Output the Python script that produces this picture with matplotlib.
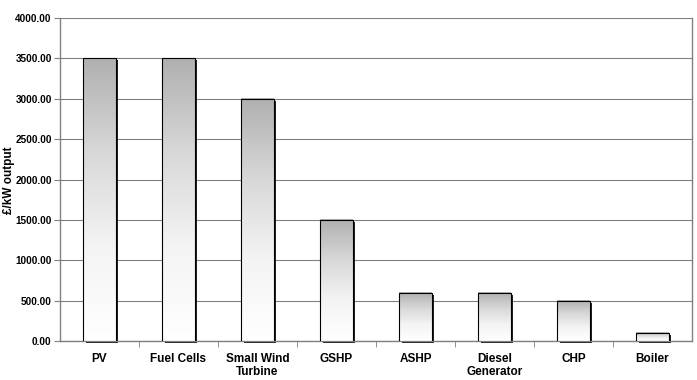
import numpy as np
import matplotlib.pyplot as plt
import matplotlib.transforms as mtransforms
from matplotlib.colors import LinearSegmentedColormap
from matplotlib.patches import Rectangle

categories = ['PV', 'Fuel Cells', 'Small Wind\nTurbine', 'GSHP', 'ASHP',
              'Diesel\nGenerator', 'CHP', 'Boiler']
values = [3500, 3500, 3000, 1500, 600, 600, 500, 100]
y_ticks = [0, 500, 1000, 1500, 2000, 2500, 3000, 3500, 4000]

plt.rcParams['font.family'] = ['Liberation Sans', 'DejaVu Sans']

fig = plt.figure(figsize=(6.97, 3.8), dpi=100)
ax = fig.add_axes([60 / 697, 1 - 341 / 380, 632 / 697, 323 / 380])

x = np.arange(len(categories))
width = 0.41

# gridlines
for t in y_ticks:
    ax.axhline(t, color='#808080', lw=0.8, zorder=0)

grad = np.linspace(0, 1, 256).reshape(-1, 1)
cmap = LinearSegmentedColormap.from_list('g', ['#ffffff', '#f4f4f4', '#d8d8d8', '#b0b0b0'])
shadow_tr = ax.transData + mtransforms.ScaledTranslation(2.5 / 100, -2 / 100, fig.dpi_scale_trans)

for xi, v in zip(x, values):
    left = xi - width / 2
    # shadow
    ax.add_patch(Rectangle((left, 0), width, v, facecolor='#202020', edgecolor='none',
                           transform=shadow_tr, zorder=2, clip_on=False))
    # gradient fill
    ax.imshow(grad, extent=(left, left + width, 0, v), aspect='auto',
              cmap=cmap, vmin=0, vmax=1, origin='lower',
              interpolation='bicubic', zorder=3)
    ax.add_patch(Rectangle((left, 0), width, v, facecolor='none',
                           edgecolor='black', lw=0.8, zorder=4))

ax.set_xlim(-0.5, len(categories) - 0.5)
ax.set_ylim(0, 4000)

ax.set_yticks(y_ticks)
ax.set_yticklabels(['%.2f' % t for t in y_ticks], fontsize=7.2, fontweight='bold')
ax.set_xticks(x)
ax.set_xticklabels(categories, fontsize=8.5, fontweight='bold', linespacing=1.1)
ax.tick_params(axis='x', length=0, pad=9)
ax.set_xticks(np.arange(0.5, len(categories) - 0.5, 1), minor=True)
ax.tick_params(axis='x', which='minor', length=4, direction='out', color='#808080')
ax.tick_params(axis='y', length=4, direction='out', color='#808080', pad=2)
fig.text(9 / 697, 1 - 180 / 380, '£/kW output',
         rotation=90, ha='center', va='center', fontsize=8.5, fontweight='bold')

for s in ['left', 'bottom', 'right']:
    ax.spines[s].set_color('#808080')
    ax.spines[s].set_linewidth(1.0)
ax.spines['top'].set_visible(False)

fig.savefig('out.png', dpi=100)
